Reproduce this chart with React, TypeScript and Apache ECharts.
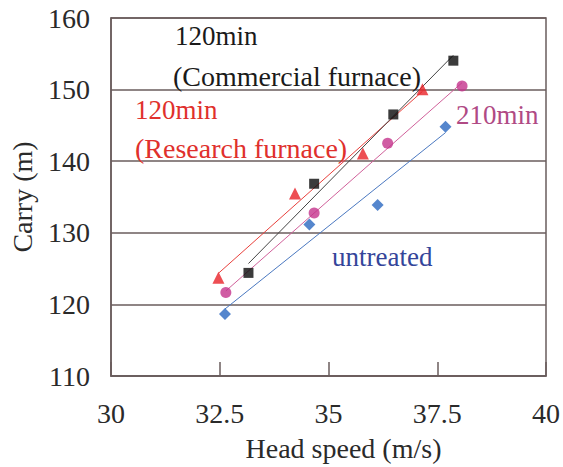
import React, { useEffect, useRef } from "react";
import * as echarts from "echarts";

// Head speed (m/s) and carry (m) per treatment
const commercialX = [33.16, 34.67, 36.49, 37.87];
const commercialY = [124.4, 136.85, 146.53, 154.04];
const researchX = [32.47, 34.23, 35.79, 37.16];
const researchY = [123.71, 135.48, 141.08, 150.04];
const min210X = [32.64, 34.67, 36.36, 38.07];
const min210Y = [121.66, 132.76, 142.5, 150.49];
const untreatedX = [32.62, 34.56, 36.13, 37.69];
const untreatedY = [118.66, 131.17, 133.9, 144.82];

const FONT = "'Liberation Serif', 'Times New Roman', serif";
const AX = "#6a5d5d";

function pairs(xs: number[], ys: number[]) {
  return xs.map((x, i) => [x, ys[i]]);
}

function fit(xs: number[], ys: number[]) {
  const n = xs.length;
  const mx = xs.reduce((a, b) => a + b, 0) / n;
  const my = ys.reduce((a, b) => a + b, 0) / n;
  let sxy = 0;
  let sxx = 0;
  for (let i = 0; i < n; i++) {
    sxy += (xs[i] - mx) * (ys[i] - my);
    sxx += (xs[i] - mx) * (xs[i] - mx);
  }
  const k = sxy / sxx;
  const x0 = Math.min(...xs);
  const x1 = Math.max(...xs);
  return [
    [x0, my + k * (x0 - mx)],
    [x1, my + k * (x1 - mx)],
  ];
}

function trend(xs: number[], ys: number[], color: string) {
  return {
    type: "line",
    data: fit(xs, ys),
    showSymbol: false,
    symbol: "none",
    lineStyle: { color, width: 1 },
    z: 2,
    silent: true,
  };
}

function scatter(xs: number[], ys: number[], symbol: string, size: number, color: string) {
  return {
    type: "scatter",
    data: pairs(xs, ys),
    symbol,
    symbolSize: size,
    itemStyle: { color },
    z: 3,
  };
}

export default function App() {
  const ref = useRef<HTMLDivElement>(null);
  useEffect(() => {
    if (!ref.current) return;
    const chart = echarts.init(ref.current, undefined, { renderer: "svg" });
    const txt = (text: string, x: number, y: number, fill: string, size = 27) => ({
      type: "text",
      left: x,
      top: y,
      style: { text, fill, font: `${size}px ${FONT}` },
      z: 10,
    });
    chart.setOption({
      animation: false,
      backgroundColor: "#ffffff",
      grid: {
        left: 109,
        right: 9,
        top: 18,
        bottom: 83,
        show: true,
        borderColor: AX,
        borderWidth: 1.5,
        backgroundColor: "transparent",
      },
      xAxis: {
        type: "value",
        min: 30,
        max: 40,
        interval: 2.5,
        name: "Head speed (m/s)",
        nameLocation: "middle",
        nameGap: 58,
        nameTextStyle: { fontFamily: FONT, fontSize: 28, color: "#2a2a2a", padding: [0, 0, 0, 30] },
        axisLine: { show: true, lineStyle: { color: AX, width: 1.5 } },
        axisTick: { show: true, inside: true, length: 14, lineStyle: { color: AX, width: 1.5 } },
        axisLabel: { fontFamily: FONT, fontSize: 28, color: "#2a2a2a", margin: 23 },
        splitLine: { show: false },
      },
      yAxis: {
        type: "value",
        min: 110,
        max: 160,
        interval: 10,
        name: "Carry (m)",
        nameLocation: "middle",
        nameGap: 75,
        nameTextStyle: { fontFamily: FONT, fontSize: 28, color: "#2a2a2a" },
        axisLine: { show: true, lineStyle: { color: AX, width: 1.5 } },
        axisTick: { show: false },
        axisLabel: { fontFamily: FONT, fontSize: 28, color: "#2a2a2a", margin: 21 },
        splitLine: { show: true, lineStyle: { color: AX, width: 1.5 } },
      },
      series: [
        trend(untreatedX, untreatedY, "#4a78c0"),
        trend(min210X, min210Y, "#d0609a"),
        trend(researchX, researchY, "#e8403c"),
        trend(commercialX, commercialY, "#444444"),
        scatter(untreatedX, untreatedY, "diamond", 12, "#2a68c0"),
        scatter(min210X, min210Y, "circle", 11, "#c4338c"),
        scatter(researchX, researchY, "triangle", 12, "#e82228"),
        scatter(commercialX, commercialY, "rect", 10, "#0a0a0a"),
      ],
      graphic: [
        txt("120min", 175, 22, "#1a1a1a"),
        txt("(Commercial furnace)", 173, 62, "#1a1a1a", 28),
        txt("120min", 135, 96, "#e0302c"),
        txt("(Research furnace)", 135, 134, "#e0302c", 28),
        txt("210min", 456, 101, "#b04a84"),
        txt("untreated", 332, 243, "#34459a"),
      ],
    });
    return () => chart.dispose();
  }, []);
  return (
    <div
      ref={ref}
      style={{ position: "fixed", left: 0, top: 0, width: 563, height: 467 }}
    />
  );
}
